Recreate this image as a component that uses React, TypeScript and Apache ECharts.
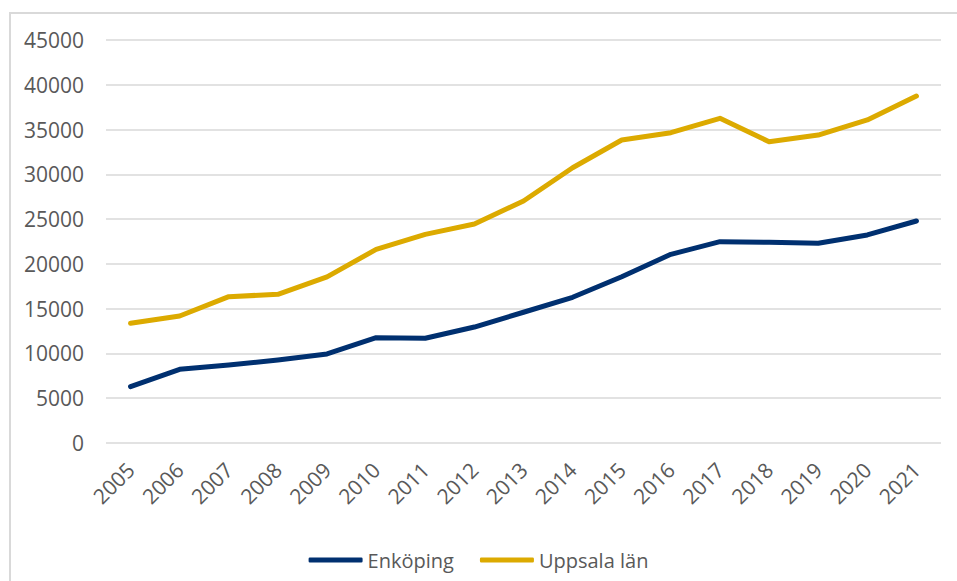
import React, { useEffect, useRef } from "react";
import * as echarts from "echarts";

const years = ["2005","2006","2007","2008","2009","2010","2011","2012","2013","2014","2015","2016","2017","2018","2019","2020","2021"];
const enkoping = [6300, 8230, 8710, 9270, 9940, 11760, 11700, 12950, 14600, 16270, 18570, 21070, 22480, 22410, 22300, 23230, 24790];
const uppsala = [13370, 14180, 16340, 16600, 18550, 21620, 23300, 24450, 27020, 30740, 33830, 34650, 36250, 33640, 34390, 36070, 38740];
const seriesNames = ["Enköping", "Uppsala län"];

const FONT = "'Open Sans', 'Noto Sans', sans-serif";
const TEXT = "#595959";
const NAVY = "#003070";
const GOLD = "#dcaa00";

export default function App() {
  const ref = useRef<HTMLDivElement>(null);
  useEffect(() => {
    if (!ref.current) return;
    const chart = echarts.init(ref.current, null, { renderer: "svg" });
    chart.setOption({
      animation: false,
      backgroundColor: "#ffffff",
      textStyle: { fontFamily: FONT },
      graphic: [
        {
          type: "rect",
          shape: { x: 10, y: 13, width: 1200, height: 1200 },
          style: { fill: "none", stroke: "#d9d9d9", lineWidth: 2 },
          silent: true,
        },
      ],
      grid: { left: 106, right: 16, top: 40, bottom: 138, containLabel: false },
      legend: {
        data: seriesNames,
        top: 545,
        left: "center",
        icon: "roundRect",
        itemWidth: 54,
        itemHeight: 5,
        itemGap: 26,
        textStyle: { color: TEXT, fontSize: 20, fontFamily: FONT },
      },
      xAxis: {
        type: "category",
        data: years,
        boundaryGap: true,
        axisLine: { show: false },
        axisTick: { show: false },
        axisLabel: { rotate: 45, color: TEXT, fontSize: 21, margin: 23, fontFamily: FONT, interval: 0 },
      },
      yAxis: {
        type: "value",
        min: 0,
        max: 45000,
        interval: 5000,
        axisLine: { show: false },
        axisTick: { show: false },
        axisLabel: { color: TEXT, fontSize: 21, margin: 22, fontFamily: FONT, formatter: (v: number) => String(v) },
        splitLine: { lineStyle: { color: "#d9d9d9", width: 1.5 } },
      },
      series: [
        {
          name: seriesNames[0],
          type: "line",
          data: enkoping,
          symbol: "none",
          color: NAVY,
          lineStyle: { width: 5, color: NAVY, cap: "round", join: "round" },
        },
        {
          name: seriesNames[1],
          type: "line",
          data: uppsala,
          symbol: "none",
          color: GOLD,
          lineStyle: { width: 5, color: GOLD, cap: "round", join: "round" },
        },
      ],
    });
    return () => chart.dispose();
  }, []);
  return (
    <div
      ref={ref}
      style={{ position: "absolute", left: 0, top: 0, width: 957, height: 581 }}
    />
  );
}
